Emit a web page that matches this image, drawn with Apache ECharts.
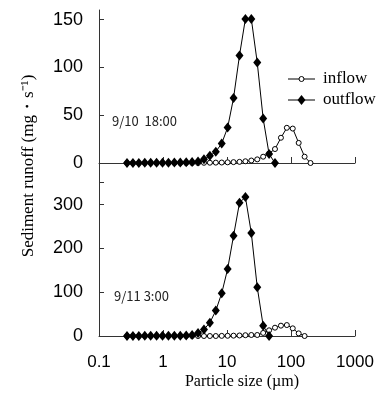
<!DOCTYPE html>
<html><head><meta charset="utf-8">
<script src="https://cdn.jsdelivr.net/npm/echarts@6/dist/echarts.min.js"></script>
<style>html,body{margin:0;padding:0;background:#fff}#c{width:384px;height:397px}</style>
</head><body><div id="c"></div>
<script>
// particle size bins (µm)
const sizes = [0.274,0.339,0.419,0.519,0.642,0.794,0.983,1.216,1.505,1.862,2.304,2.851,3.527,4.365,5.401,6.683,8.270,10.23,12.66,15.67,19.39,23.99,29.69,36.73,45.45,56.23,69.59,86.10,106.5,131.8,163.1,201.8];
// 9/10 18:00
const inflowTop = [0,0,0,0,0,0,0,0,0,0,0,0,0,0.2,0.3,0.4,0.5,0.7,0.9,1.2,1.8,2.6,3.8,6.6,10,14.6,26.4,36.8,36,21,6.6,0];
const outflowTop = [0.1,0.1,0.1,0.2,0.2,0.2,0.3,0.3,0.4,0.5,0.7,1.0,1.6,3.8,7.6,11.8,20.5,37,68,112.5,150.7,150.7,105,46.5,9.4,0];
// 9/11 3:00
const inflowBottom = [0,0,0,0,0,0,0,0,0,0,0,0,0,0,0,0,0.3,0.5,0.8,1.2,1.8,2.3,2.3,7,13,19,23.6,25,17.5,6,0];
const outflowBottom = [0.2,0.2,0.2,0.3,0.3,0.3,0.4,0.4,0.5,0.6,1.0,2.3,7,15,30.5,58,97.7,153,229,304,317.5,235,111.5,23.6,0];
const xTicks = [0.1,1,10,100,1000];
const yLabelsTop = [0,50,100,150];
const yLabelsBottom = [0,100,200,300];
const yTicksBottom = [0,100,200,300,350];
const panelLabels = ['9/10  18:00','9/11 3:00'];
const seriesNames = ['inflow','outflow'];

const pairs = vals => vals.map((v,i)=>[sizes[i], v]);
const axisColor = '#333';
const sans = 'Liberation Sans';
const serif = 'Liberation Serif';

function xAxis(gi, showLabels){
  return {
    type:'log', logBase:10, min:0.1, max:1000, gridIndex:gi,
    axisLine:{show:true, onZero:false, lineStyle:{color:axisColor,width:1}},
    axisTick:{show:true, inside:true, length:6, lineStyle:{color:axisColor}},
    axisLabel:{show:showLabels, margin:18, color:'#000', fontFamily:sans, fontSize:17,
      formatter:v=>String(v)},
    splitLine:{show:false}, minorTick:{show:false}
  };
}
function yAxis(gi, max, labels, ticks){
  return {
    type:'value', min:0, max:max, gridIndex:gi,
    axisLine:{show:true, lineStyle:{color:axisColor,width:1}},
    axisTick:{show:true, inside:true, length:5, customValues:ticks, lineStyle:{color:axisColor}},
    axisLabel:{show:true, margin:16, color:'#000', fontFamily:sans, fontSize:18, customValues:labels},
    splitLine:{show:false}
  };
}
function inflowSeries(gi, vals){
  return {name:seriesNames[0], type:'line', xAxisIndex:gi, yAxisIndex:gi, data:pairs(vals),
    symbol:'circle', symbolSize:5, showAllSymbol:true,
    itemStyle:{color:'#fff', borderColor:'#000', borderWidth:1},
    lineStyle:{color:'#000', width:1}, animation:false, z:2};
}
function outflowSeries(gi, vals){
  return {name:seriesNames[1], type:'line', xAxisIndex:gi, yAxisIndex:gi, data:pairs(vals),
    symbol:'diamond', symbolSize:[8,10], showAllSymbol:true,
    itemStyle:{color:'#000', borderColor:'#000', borderWidth:0},
    lineStyle:{color:'#000', width:1}, animation:false, z:3};
}

// legend drawn as graphic (line + marker + label)
function legendItem(y, name, marker){
  return {type:'group', x:288, y:y, children:[
    {type:'line', shape:{x1:0,y1:0,x2:27,y2:0}, style:{stroke:'#000', lineWidth:1}},
    marker,
    {type:'text', x:35, y:0, style:{text:name, fontFamily:serif, fontSize:17, fill:'#000', align:'left', verticalAlign:'middle'}}
  ]};
}

const chart = echarts.init(document.getElementById('c'), null, {renderer:'canvas'});
chart.setOption({
  animation:false,
  backgroundColor:'#fff',
  grid:[
    {left:99, width:256, top:10, height:153},
    {left:99, width:256, top:163, height:173}
  ],
  xAxis:[xAxis(0,false), xAxis(1,true)],
  yAxis:[yAxis(0,160,yLabelsTop,yLabelsTop), yAxis(1,395,yLabelsBottom,yTicksBottom)],
  series:[
    inflowSeries(0, inflowTop), outflowSeries(0, outflowTop),
    inflowSeries(1, inflowBottom), outflowSeries(1, outflowBottom)
  ],
  graphic:[
    {type:'text', x:29, y:166, rotation:Math.PI/2, style:{text:'Sediment runoff (mg・s\u207B\u00B9)', fontFamily:serif, fontSize:17, fill:'#000', align:'center', verticalAlign:'middle'}},
    {type:'text', x:242, y:382, style:{text:'Particle size (µm)', fontFamily:serif, fontSize:16, fill:'#000', align:'center', verticalAlign:'middle'}},
    {type:'text', x:112, y:121, style:{text:panelLabels[0], fontFamily:'Noto Sans CJK JP', fontSize:13, fill:'#222', align:'left', verticalAlign:'middle'}},
    {type:'text', x:114, y:296, style:{text:panelLabels[1], fontFamily:'Noto Sans CJK JP', fontSize:13, fill:'#222', align:'left', verticalAlign:'middle'}},
    legendItem(79, seriesNames[0], {type:'circle', shape:{cx:13.5, cy:0, r:2.5}, style:{fill:'#fff', stroke:'#000', lineWidth:1}}),
    legendItem(100, seriesNames[1], {type:'polygon', shape:{points:[[13.5,-5],[17.5,0],[13.5,5],[9.5,0]]}, style:{fill:'#000'}})
  ]
});
</script>
</body></html>
